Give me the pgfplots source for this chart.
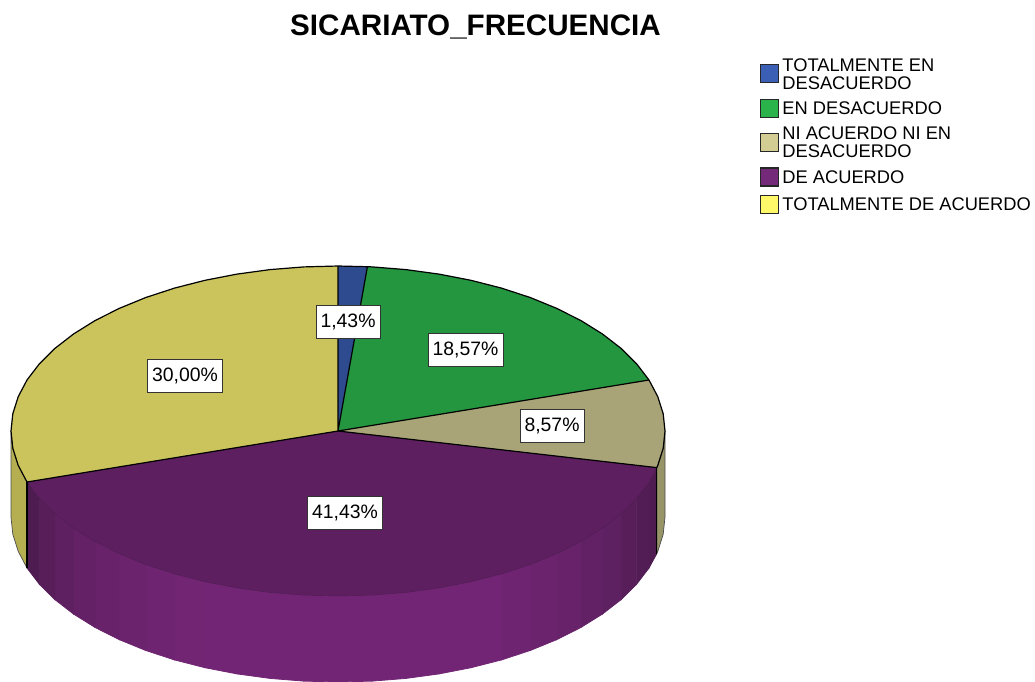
\documentclass[border=0pt]{standalone}
\usepackage{fontspec}
\setmainfont{Liberation Sans}
\usepackage{pgfplots}
\pgfplotsset{compat=1.18}
\definecolor{blueT}{HTML}{2F4B90}
\definecolor{greenT}{HTML}{24963F}
\definecolor{tanT}{HTML}{A9A478}
\definecolor{purpT}{HTML}{5E1F60}
\definecolor{yelT}{HTML}{CBC45D}
\definecolor{blueL}{HTML}{3A5FB5}
\definecolor{greenL}{HTML}{2BB34B}
\definecolor{tanL}{HTML}{D3CD93}
\definecolor{purpL}{HTML}{752A79}
\definecolor{yelL}{HTML}{FFF868}
\definecolor{yelW}{HTML}{B5AF52}
\definecolor{tanW}{HTML}{979468}
\definecolor{purpM}{HTML}{722574}
\definecolor{purpE}{HTML}{4F1C52}
\newcommand{\US}{\rule{0pt}{14pt}}
\newcommand{\DS}{\rule[-6pt]{0pt}{6pt}}
\tikzset{lab/.style={draw=black!80, fill=white, line width=1pt, minimum width=#1, minimum height=33pt, inner sep=0pt, font=\fontsize{19.4}{22}\selectfont}}
\pgfplotsset{
  facet/.style={fill=purpE!#1!purpM, draw=purpE!#1!purpM, line width=0.8pt, forget plot},
  wedge/.style={fill=#1, draw=none, forget plot},
  blk/.style={draw=black, line width=1.2pt, forget plot, line join=round},
}
\begin{document}
\begin{tikzpicture}
\useasboundingbox (0,0) rectangle (1035pt,681pt);
\begin{axis}[
  at={(0,0)}, anchor=south west,
  scale only axis, width=1035pt, height=681pt,
  xmin=0, xmax=1035, ymin=0, ymax=681, y dir=reverse,
  hide axis,
  title={\textbf{SICARIATO\_FRECUENCIA}},
  title style={at={(rel axis cs:0.4594,0.9516)}, anchor=center, font=\fontsize{29.6}{32}\selectfont, inner sep=0pt},
  legend style={at={(axis cs:760,57)}, anchor=north west, draw=none, fill=none, inner sep=0pt, outer sep=0pt,
    font=\fontsize{18.3}{18}\selectfont, row sep=8pt, column sep=3pt,
    nodes={inner sep=0pt, outer sep=0pt}},
  legend cell align=left,
  legend image code/.code={\draw[#1, draw=black!85, line width=1.4pt] (0pt,-9pt) rectangle (18pt,9pt);},
]
\addlegendimage{fill=blueL}
\addlegendentry[align=left]{\US TOTALMENTE EN\\DESACUERDO\DS}
\addlegendimage{fill=greenL}
\addlegendentry{\US EN DESACUERDO\DS}
\addlegendimage{fill=tanL}
\addlegendentry[align=left]{\US NI ACUERDO NI EN\\DESACUERDO\DS}
\addlegendimage{fill=purpL}
\addlegendentry{\US DE ACUERDO\DS}
\addlegendimage{fill=yelL}
\addlegendentry{\US TOTALMENTE DE ACUERDO\DS}

% side walls
\addplot[fill=yelW, draw=black!70, line width=0.7pt, forget plot] coordinates {
 (11,431) (12.8,448.2) (18.2,465.3) (27,482) (27,568) (18.2,551.3) (12.8,534.2) (11,517) (11,431)};
\addplot[fill=tanW, draw=black!70, line width=0.7pt, forget plot] coordinates {
 (665,431) (663.2,448.2) (657.8,465.3) (656.8,467.6) (656.8,553.6) (657.8,551.3) (663.2,534.2) (665,517) (665,431)};

% purple front wall, facet by facet
\addplot[facet=100] coordinates {(656.8,467.6) (649,482) (649,568) (656.8,553.6) (656.8,467.6)};
\addplot[facet=90] coordinates {(649,482) (636.7,498.1) (636.7,584.1) (649,568) (649,482)};
\addplot[facet=75] coordinates {(636.7,498.1) (621.2,513.5) (621.2,599.5) (636.7,584.1) (636.7,498.1)};
\addplot[facet=60] coordinates {(621.2,513.5) (602.5,528) (602.5,614) (621.2,599.5) (621.2,513.5)};
\addplot[facet=45] coordinates {(602.5,528) (581,541.4) (581,627.4) (602.5,614) (602.5,528)};
\addplot[facet=30] coordinates {(581,541.4) (556.8,553.6) (556.8,639.6) (581,627.4) (581,541.4)};
\addplot[facet=18] coordinates {(556.8,553.6) (530.2,564.5) (530.2,650.5) (556.8,639.6) (556.8,553.6)};
\addplot[facet=8] coordinates {(530.2,564.5) (501.5,573.9) (501.5,659.9) (530.2,650.5) (530.2,564.5)};
\addplot[facet=0] coordinates {(501.5,573.9) (471,581.7) (471,667.7) (501.5,659.9) (501.5,573.9)};
\addplot[facet=0] coordinates {(471,581.7) (439,587.9) (439,673.9) (471,667.7) (471,581.7)};
\addplot[facet=0] coordinates {(439,587.9) (406,592.4) (406,678.4) (439,673.9) (439,587.9)};
\addplot[facet=0] coordinates {(406,592.4) (372.2,595.1) (372.2,681.1) (406,678.4) (406,592.4)};
\addplot[facet=0] coordinates {(372.2,595.1) (338,596) (338,682) (372.2,681.1) (372.2,595.1)};
\addplot[facet=0] coordinates {(338,596) (303.8,595.1) (303.8,681.1) (338,682) (338,596)};
\addplot[facet=0] coordinates {(303.8,595.1) (270,592.4) (270,678.4) (303.8,681.1) (303.8,595.1)};
\addplot[facet=0] coordinates {(270,592.4) (237,587.9) (237,673.9) (270,678.4) (270,592.4)};
\addplot[facet=0] coordinates {(237,587.9) (205,581.7) (205,667.7) (237,673.9) (237,587.9)};
\addplot[facet=4] coordinates {(205,581.7) (174.5,573.9) (174.5,659.9) (205,667.7) (205,581.7)};
\addplot[facet=10] coordinates {(174.5,573.9) (145.8,564.5) (145.8,650.5) (174.5,659.9) (174.5,573.9)};
\addplot[facet=18] coordinates {(145.8,564.5) (119.2,553.6) (119.2,639.6) (145.8,650.5) (145.8,564.5)};
\addplot[facet=28] coordinates {(119.2,553.6) (95,541.4) (95,627.4) (119.2,639.6) (119.2,553.6)};
\addplot[facet=40] coordinates {(95,541.4) (73.5,528) (73.5,614) (95,627.4) (95,541.4)};
\addplot[facet=55] coordinates {(73.5,528) (54.8,513.5) (54.8,599.5) (73.5,614) (73.5,528)};
\addplot[facet=75] coordinates {(54.8,513.5) (39.3,498.1) (39.3,584.1) (54.8,599.5) (54.8,513.5)};
\addplot[facet=100] coordinates {(39.3,498.1) (27,482) (27,568) (39.3,584.1) (39.3,498.1)};

% top wedges
\addplot[wedge=yelT] coordinates {(338,431) (27,482) (18.2,465.3) (12.8,448.2) (11,431) (12.8,413.8) (18.2,396.7) (27,380) (39.3,363.9) (54.8,348.5) (73.5,334) (95,320.6) (119.2,308.4) (145.8,297.5) (174.5,288.1) (205,280.3) (237,274.1) (270,269.6) (303.8,266.9) (338,266)};
\addplot[wedge=blueT] coordinates {(338,431) (338,266) (367.4,266.7)};
\addplot[wedge=greenT] coordinates {(338,431) (367.4,266.7) (372.2,266.9) (406,269.6) (439,274.1) (471,280.3) (501.5,288.1) (530.2,297.5) (556.8,308.4) (581,320.6) (602.5,334) (621.2,348.5) (636.7,363.9) (649,380)};
\addplot[wedge=tanT] coordinates {(338,431) (649,380) (657.8,396.7) (663.2,413.8) (665,431) (663.2,448.2) (657.8,465.3) (656.8,467.6)};
\addplot[wedge=purpT] coordinates {(338,431) (656.8,467.6) (649,482) (636.7,498.1) (621.2,513.5) (602.5,528) (581,541.4) (556.8,553.6) (530.2,564.5) (501.5,573.9) (471,581.7) (439,587.9) (406,592.4) (372.2,595.1) (338,596) (303.8,595.1) (270,592.4) (237,587.9) (205,581.7) (174.5,573.9) (145.8,564.5) (119.2,553.6) (95,541.4) (73.5,528) (54.8,513.5) (39.3,498.1) (27,482)};

% faint front rim of the purple top
\addplot[draw=purpE, line width=0.5pt, forget plot] coordinates {(656.8,467.6) (649,482) (636.7,498.1) (621.2,513.5) (602.5,528) (581,541.4) (556.8,553.6) (530.2,564.5) (501.5,573.9) (471,581.7) (439,587.9) (406,592.4) (372.2,595.1) (338,596) (303.8,595.1) (270,592.4) (237,587.9) (205,581.7) (174.5,573.9) (145.8,564.5) (119.2,553.6) (95,541.4) (73.5,528) (54.8,513.5) (39.3,498.1) (27,482)};

% black rim and radial lines
\addplot[blk] coordinates {(27,482) (18.2,465.3) (12.8,448.2) (11,431) (12.8,413.8) (18.2,396.7) (27,380) (39.3,363.9) (54.8,348.5) (73.5,334) (95,320.6) (119.2,308.4) (145.8,297.5) (174.5,288.1) (205,280.3) (237,274.1) (270,269.6) (303.8,266.9) (338,266) (367.4,266.7) (372.2,266.9) (406,269.6) (439,274.1) (471,280.3) (501.5,288.1) (530.2,297.5) (556.8,308.4) (581,320.6) (602.5,334) (621.2,348.5) (636.7,363.9) (649,380) (657.8,396.7) (663.2,413.8) (665,431) (663.2,448.2) (657.8,465.3) (656.8,467.6)};
\addplot[blk] coordinates {(27,482) (338,431) (656.8,467.6)};
\addplot[blk] coordinates {(338,266) (338,431) (367.4,266.7)};
\addplot[blk] coordinates {(338,431) (649,380)};
\addplot[blk] coordinates {(27,482) (27,568)};
\addplot[blk] coordinates {(656.8,467.6) (656.8,553.6)};

\node[lab=64pt] at (axis cs:348,322) {1,43\%};
\node[lab=75pt] at (axis cs:465.5,350) {18,57\%};
\node[lab=64pt] at (axis cs:552,426) {8,57\%};
\node[lab=75pt] at (axis cs:345,512.5) {41,43\%};
\node[lab=75pt] at (axis cs:185,376) {30,00\%};
\end{axis}
\end{tikzpicture}
\end{document}
